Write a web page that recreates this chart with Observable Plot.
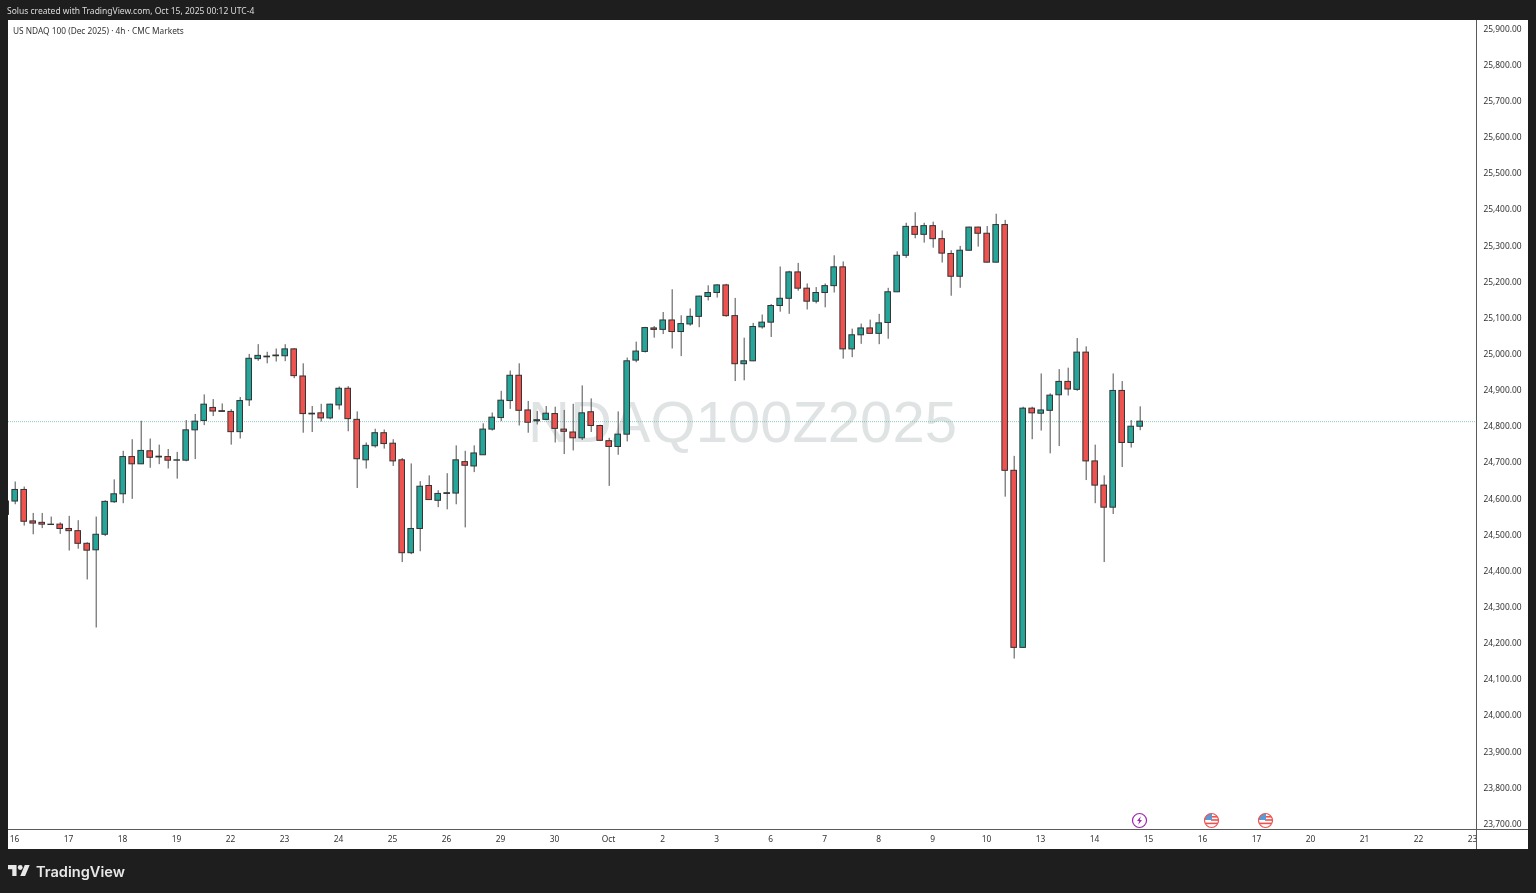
<!DOCTYPE html>
<html>
<head>
<meta charset="utf-8">
<script src="https://cdn.jsdelivr.net/npm/d3@7"></script>
<script src="https://cdn.jsdelivr.net/npm/@observablehq/plot@0.6"></script>
<style>
html,body{margin:0;padding:0;background:#1e1e1e;overflow:hidden}
#page{position:relative;width:1536px;height:893px;background:#1e1e1e;font-family:"Noto Sans",sans-serif;filter:blur(0.3px)}
#page>*{position:absolute}
#panel{left:8px;top:20px;width:1520px;height:829px;background:#fff}
#chart{left:0;top:0}
#chart svg{display:block;background:transparent}
.hline{background:#5a5a5a}
#credit{left:7px;top:4.5px;font-size:8.5px;line-height:12px;color:#dcdcdc;white-space:nowrap}
#legendline{left:13px;top:25px;font-size:8.3px;line-height:12px;color:#333;white-space:nowrap}
#brand{left:36px;top:862px;font:600 14.6px/20px Inter,sans-serif;color:#e8e8e8;white-space:nowrap}
</style>
</head>
<body>
<div id="page">
  <div id="panel"></div>
  <div id="chart"></div>
  <div style="left:1477px;top:830px;width:51px;height:19px;background:#fff"></div>
  <div class="hline" style="left:1476px;top:20px;width:1px;height:829px"></div>
  <div class="hline" style="left:8px;top:829px;width:1520px;height:1px"></div>
  <div id="credit">Solus created with TradingView.com, Oct 15, 2025 00:12 UTC-4</div>
  <div id="legendline">US NDAQ 100 (Dec 2025) · 4h · CMC Markets</div>
  <svg style="left:8px;top:865px" width="22" height="11" viewBox="0 4 36 18"><path fill="#e8e8e8" d="M14 22H7V11H0V4h14v18zM28 22h-8l7.5-18h8L28 22z"/><circle fill="#e8e8e8" cx="20" cy="8" r="4"/></svg>
  <div id="brand">TradingView</div>
  <svg style="left:1131px;top:811.5px" width="17" height="17" viewBox="0 0 17 17"><circle cx="8.5" cy="8.5" r="7" fill="#fff" stroke="#9c27b0" stroke-width="1.2"/><path d="M9.8 4.2 6 9h2.2l-1 3.8L11 8H8.8z" fill="#9c27b0"/></svg>
  <svg style="left:1203px;top:811.5px" width="17" height="17" viewBox="0 0 17 17"><use href="#flag"/></svg>
  <svg style="left:1257px;top:811.5px" width="17" height="17" viewBox="0 0 17 17"><defs><g id="flag"><clipPath id="fc"><circle cx="8.5" cy="8.5" r="7"/></clipPath><g clip-path="url(#fc)"><rect width="17" height="17" fill="#fff"/><rect y="4" x="8" width="9" height="1.6" fill="#ef5350"/><rect y="7.2" x="8" width="9" height="1.6" fill="#ef5350"/><rect y="10.6" width="17" height="1.6" fill="#ef5350"/><rect y="1" x="0" width="9" height="7" fill="#5b9bd5"/></g><circle cx="8.5" cy="8.5" r="7" fill="none" stroke="#ef5350" stroke-width="1.2"/></g></defs><use href="#flag"/></svg>
</div>
<script>
const open = [24554,24591,24623,24536,24532,24526,24527,24515,24509,24474,24456,24499,24589,24611,24714,24694,24730,24713,24714,24704,24704,24788,24814,24850,24841,24839,24783,24871,24985,24990,24993,24993,25012,24937,24832,24835,24821,24857,24903,24817,24705,24744,24780,24751,24705,24448,24515,24634,24593,24612,24613,24700,24688,24719,24790,24822,24869,24939,24843,24813,24817,24833,24790,24782,24766,24838,24800,24758,24742,24776,24981,25005,25070,25066,25092,25060,25081,25102,25157,25168,25189,25104,24971,24979,25073,25086,25132,25152,25225,25180,25144,25168,25187,25239,25012,25051,25070,25055,25085,25170,25271,25351,25329,25353,25317,25276,25213,25285,25349,25332,25252,25356,24676,24186,24848,24834,24842,24885,24922,24900,25003,24702,24635,24574,24897,24753,24798];
const high = [24600,24645,24631,24558,24558,24548,24532,24550,24538,24477,24548,24593,24651,24730,24762,24813,24764,24747,24735,24727,24815,24832,24886,24873,24861,24845,24879,24998,25025,25004,25013,25025,25014,24972,24854,24860,24860,24908,24909,24839,24753,24791,24789,24762,24710,24695,24646,24662,24621,24668,24745,24730,24745,24806,24836,24896,24952,24972,24868,24840,24854,24852,24843,24860,24911,24875,24802,24766,24839,24988,25032,25073,25075,25114,25177,25105,25124,25159,25188,25191,25192,25153,25043,25084,25107,25136,25240,25228,25250,25193,25183,25193,25271,25254,25068,25082,25093,25109,25181,25282,25361,25390,25361,25364,25340,25285,25297,25350,25350,25352,25386,25369,24716,24852,24852,24944,24889,24956,24960,25042,25019,24747,24662,24944,24923,24815,24853];
const low = [24545,24582,24523,24499,24516,24526,24500,24454,24459,24374,24241,24494,24586,24585,24597,24693,24683,24693,24681,24653,24701,24707,24801,24826,24839,24747,24764,24854,24979,24972,24977,24978,24931,24780,24782,24811,24817,24844,24784,24627,24681,24739,24736,24688,24422,24444,24452,24594,24574,24568,24582,24518,24671,24719,24786,24812,24846,24800,24780,24803,24815,24753,24721,24731,24760,24782,24757,24633,24719,24756,24975,25002,25043,25053,25013,24992,25076,25072,25146,25154,25101,24923,24925,24978,25068,25045,25115,25109,25173,25121,25138,25127,25168,24985,24989,25026,25055,25025,25040,25170,25264,25318,25306,25292,25251,25159,25181,25284,25295,25251,25251,24603,24155,24185,24762,24786,24723,24743,24883,24896,24649,24585,24422,24555,24685,24739,24787];
const close = [24591,24623,24535,24530,24527,24527,24515,24509,24474,24455,24499,24590,24611,24714,24694,24731,24712,24715,24704,24705,24788,24812,24859,24840,24839,24783,24869,24986,24994,24992,24995,25012,24938,24833,24834,24821,24859,24903,24819,24708,24745,24780,24750,24702,24448,24515,24632,24595,24612,24614,24705,24690,24724,24790,24823,24870,24939,24842,24809,24816,24834,24792,24784,24766,24835,24800,24759,24742,24776,24979,25006,25071,25066,25092,25060,25082,25102,25158,25168,25189,25104,24971,24979,25074,25086,25132,25152,25225,25180,25144,25168,25187,25239,25012,25051,25070,25055,25084,25170,25271,25351,25329,25353,25317,25277,25213,25285,25349,25332,25252,25356,24676,24186,24848,24835,24843,24884,24922,24901,25003,24702,24635,24574,24897,24753,24798,24812];
const dayLabels = ["16","17","18","19","22","23","24","25","26","29","30","Oct","2","3","6","7","8","9","10","13","14","15","16","17","20","21","22","23"];
const priceTicks = [25900,25800,25700,25600,25500,25400,25300,25200,25100,25000,24900,24800,24700,24600,24500,24400,24300,24200,24100,24000,23900,23800,23700];
const lastPrice = 24812;
const symbolName = "NDAQ100Z2025";
const upColor = "#26a69a", downColor = "#ef5350", edgeColor = "#333333", wickColor = "#4d4d4d";

const candles = open.map((o, i) => ({i, open: o, high: high[i], low: low[i], close: close[i]}));
// one candle per 4h slot, six slots per day; a day label every sixth slot
const dayTicks = dayLabels.map((_, n) => 1 + n * 6);

const chart = Plot.plot({
  width: 1536,
  height: 893,
  marginLeft: 8,
  marginRight: 60,
  marginTop: 20,
  marginBottom: 64,
  style: {background: "transparent", fontFamily: '"Noto Sans", sans-serif'},
  x: {type: "linear", domain: [0.2556, 163.37], label: null},
  y: {type: "linear", domain: [23683.4, 25922.1], label: null},
  marks: [
    Plot.text([symbolName], {frameAnchor: "middle", dy: -2, fontSize: 58, fontFamily: '"Liberation Sans", sans-serif', fill: "#e0e3e4"}),
    Plot.ruleY([lastPrice], {stroke: "#26a69a", strokeOpacity: 0.55, strokeDasharray: "1 1", strokeWidth: 1}),
    Plot.ruleX(candles, {x: "i", y1: "low", y2: "high", stroke: wickColor, strokeWidth: 1, clip: true}),
    Plot.rect(candles, {
      x1: d => d.i - 0.31, x2: d => d.i + 0.31,
      y1: "open", y2: "close",
      fill: d => d.close < d.open ? downColor : upColor,
      stroke: edgeColor, strokeWidth: 1, clip: true
    }),
    Plot.axisY(priceTicks, {anchor: "right", tickSize: 0, tickPadding: 7, dy: 0.6, tickFormat: d3.format(",.2f"), fontSize: 8.4, fill: "#333", label: null}),
    Plot.axisX(dayTicks, {anchor: "bottom", tickSize: 0, tickPadding: 7, dx: -0.6, tickFormat: k => dayLabels[(k - 1) / 6], fontSize: 8.4, fill: "#333", label: null})
  ]
});
document.getElementById("chart").appendChild(chart);
</script>
</body>
</html>
